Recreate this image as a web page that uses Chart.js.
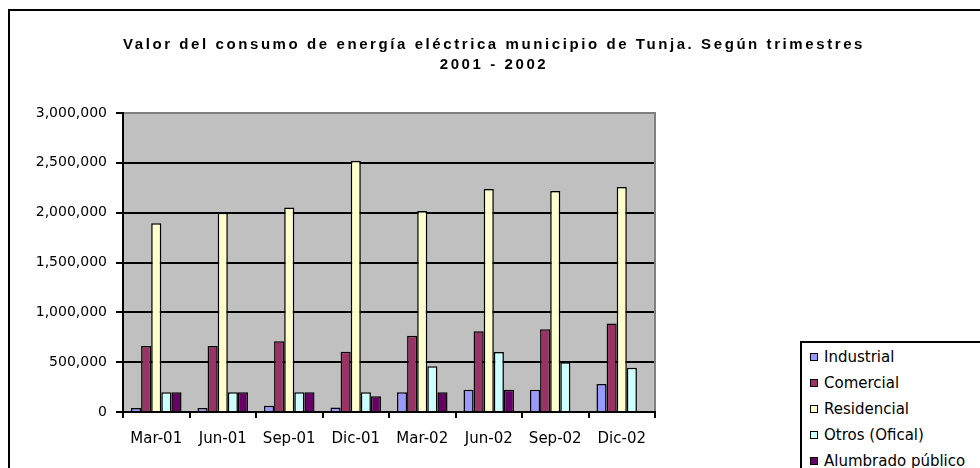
<!DOCTYPE html>
<html>
<head>
<meta charset="utf-8">
<script src="https://cdn.jsdelivr.net/npm/chart.js@4/dist/chart.umd.min.js"></script>
<style>
  body { margin: 0; background: #fff; }
  #wrap { position: relative; width: 980px; height: 468px; overflow: hidden; }
  #frame { position: absolute; left: 8px; top: 9px; width: 1000px; height: 500px; border: 2px solid #000; }
  #chart { position: absolute; left: 0; top: 0; }
  .title { position: absolute; left: 0; width: 988px; text-align: center; font: bold 15px "Liberation Sans", Arial, sans-serif; line-height: 17px; white-space: nowrap; }
  #legend { position: absolute; left: 800px; top: 341px; width: 220px; height: 160px; border: 2px solid #000; background: #fff; }
  .item { position: absolute; left: 0; height: 20px; font: 15px "DejaVu Sans", sans-serif; line-height: 20px; white-space: nowrap; }
  .item i { position: absolute; left: 8px; top: 6px; width: 6px; height: 6px; border: 1px solid #000; }
  .item span { position: absolute; left: 22px; top: 0; }
</style>
</head>
<body>
<div id="wrap">
  <div id="frame"></div>
  <canvas id="chart" width="980" height="468"></canvas>
  <div class="title" id="t1" style="top:35px">Valor del consumo de energía eléctrica municipio de Tunja. Según trimestres</div>
  <div class="title" id="t2" style="top:55px">2001 - 2002</div>
  <div id="legend"></div>
</div>
<script>
const quarters = ["Mar-01", "Jun-01", "Sep-01", "Dic-01", "Mar-02", "Jun-02", "Sep-02", "Dic-02"];
const seriesNames = ["Industrial", "Comercial", "Residencial", "Otros (Ofical)", "Alumbrado público"];
const seriesColors = ["#9999FF", "#993366", "#FFFFCC", "#CCFFFF", "#660066"];

const industrial = [40000, 40000, 63000, 45000, 198000, 222000, 222000, 282000];
const comercial = [661000, 661000, 709000, 605000, 766000, 809000, 830000, 887000];
const residencial = [1895000, 2000000, 2052000, 2520000, 2016000, 2238000, 2218000, 2258000];
const otros = [198000, 198000, 198000, 198000, 460000, 601000, 500000, 443000];
const alumbrado = [198000, 198000, 198000, 157000, 198000, 222000, null, null];

const yMax = 3000000;
const yStep = 500000;

const seriesValues = [industrial, comercial, residencial, otros, alumbrado];

// spread title letters to the reference width
(function () {
  const c = document.createElement("canvas").getContext("2d");
  c.font = 'bold 15px "Liberation Sans"';
  const t1 = document.getElementById("t1");
  const w = c.measureText(t1.textContent).width;
  const sp = Math.max(0, (742 - w) / t1.textContent.length);
  t1.style.letterSpacing = sp + "px";
  document.getElementById("t2").style.letterSpacing = sp + "px";
})();

const legend = document.getElementById("legend");
seriesNames.forEach(function (name, i) {
  const d = document.createElement("div");
  d.className = "item";
  d.style.top = (4 + i * 26) + "px";
  d.innerHTML = '<i style="background:' + seriesColors[i] + '"></i><span>' + name + "</span>";
  legend.appendChild(d);
});

const plotBg = {
  id: "plotBg",
  beforeDraw(chart) {
    const a = chart.chartArea, ctx = chart.ctx;
    ctx.save();
    ctx.fillStyle = "#C0C0C0";
    ctx.fillRect(a.left, a.top, a.right - a.left, a.bottom - a.top);
    ctx.restore();
  },
  afterDraw(chart) {
    const a = chart.chartArea, ctx = chart.ctx;
    ctx.save();
    ctx.strokeStyle = "#808080";
    ctx.lineWidth = 2;
    ctx.beginPath();
    ctx.moveTo(a.left + 1, a.top);
    ctx.lineTo(a.right, a.top);
    ctx.lineTo(a.right, a.bottom - 1);
    ctx.stroke();
    ctx.restore();
  }
};

new Chart(document.getElementById("chart"), {
  type: "bar",
  data: {
    labels: quarters,
    datasets: seriesNames.map(function (name, i) {
      return {
        label: name,
        data: seriesValues[i],
        backgroundColor: seriesColors[i],
        borderColor: "#000",
        borderWidth: 1.5,
        barPercentage: 1,
        categoryPercentage: 0.76
      };
    })
  },
  options: {
    responsive: false,
    animation: false,
    layout: { padding: { left: 0, right: 325, top: 113, bottom: 0 } },
    plugins: { legend: { display: false }, title: { display: false }, tooltip: { enabled: false } },
    scales: {
      x: {
        afterFit(s) { s.height = 56; },
        grid: { drawOnChartArea: false, color: "#000", lineWidth: 2, tickLength: 6 },
        border: { color: "#000", width: 2 },
        ticks: { color: "#000", padding: 12, maxRotation: 0, font: { family: "DejaVu Sans", size: 15 } }
      },
      y: {
        min: 0,
        max: yMax,
        afterFit(s) { s.width = 123; },
        grid: { color: "#000", lineWidth: 2, tickLength: 7 },
        border: { color: "#000", width: 2 },
        ticks: {
          stepSize: yStep,
          color: "#000",
          padding: 9,
          font: { family: "DejaVu Sans", size: 14 },
          callback: function (v) { return v.toLocaleString("en-US"); }
        }
      }
    }
  },
  plugins: [plotBg]
});
</script>
</body>
</html>
